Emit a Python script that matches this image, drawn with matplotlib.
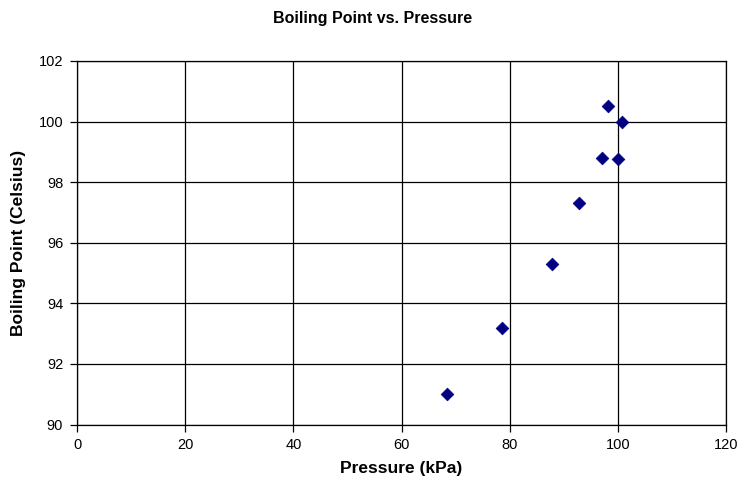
import matplotlib
matplotlib.use("Agg")
import matplotlib.pyplot as plt

plt.rcParams['font.family'] = ['Liberation Sans', 'DejaVu Sans']

# data
pressure_kpa = [68.4, 78.5, 87.9, 92.9, 97.1, 98.1, 100.1, 100.7]
boiling_c = [91.0, 93.2, 95.3, 97.3, 98.8, 100.5, 98.75, 100.0]
x_ticks = [0, 20, 40, 60, 80, 100, 120]
y_ticks = [90, 92, 94, 96, 98, 100, 102]

fig = plt.figure(figsize=(7.45, 4.88), dpi=100)
ax = fig.add_axes([0.1034, 0.130, 0.8711, 0.745])

ax.scatter(pressure_kpa, boiling_c, marker='D', s=42, color='#000080',
           edgecolors='#000080', linewidths=0.5, zorder=3)

ax.set_xlim(0, 120)
ax.set_ylim(90, 102)
ax.set_xticks(x_ticks)
ax.set_yticks(y_ticks)
ax.grid(True, color='black', linewidth=0.9)
ax.set_axisbelow(True)
for sp in ax.spines.values():
    sp.set_color('black')
    sp.set_linewidth(0.9)
ax.tick_params(direction='out', length=5, width=0.9, labelsize=10.5,
               pad=5, colors='black')

ax.set_xlabel('Pressure (kPa)', fontsize=12.5, fontweight='bold', labelpad=6)
ax.set_ylabel('Boiling Point (Celsius)', fontsize=12.5, fontweight='bold',
              labelpad=9)
fig.text(0.5, 1 - 18 / 488, 'Boiling Point vs. Pressure', ha='center',
         va='center', fontsize=11.5, fontweight='bold')

fig.savefig('out.png', dpi=100, facecolor='white')
